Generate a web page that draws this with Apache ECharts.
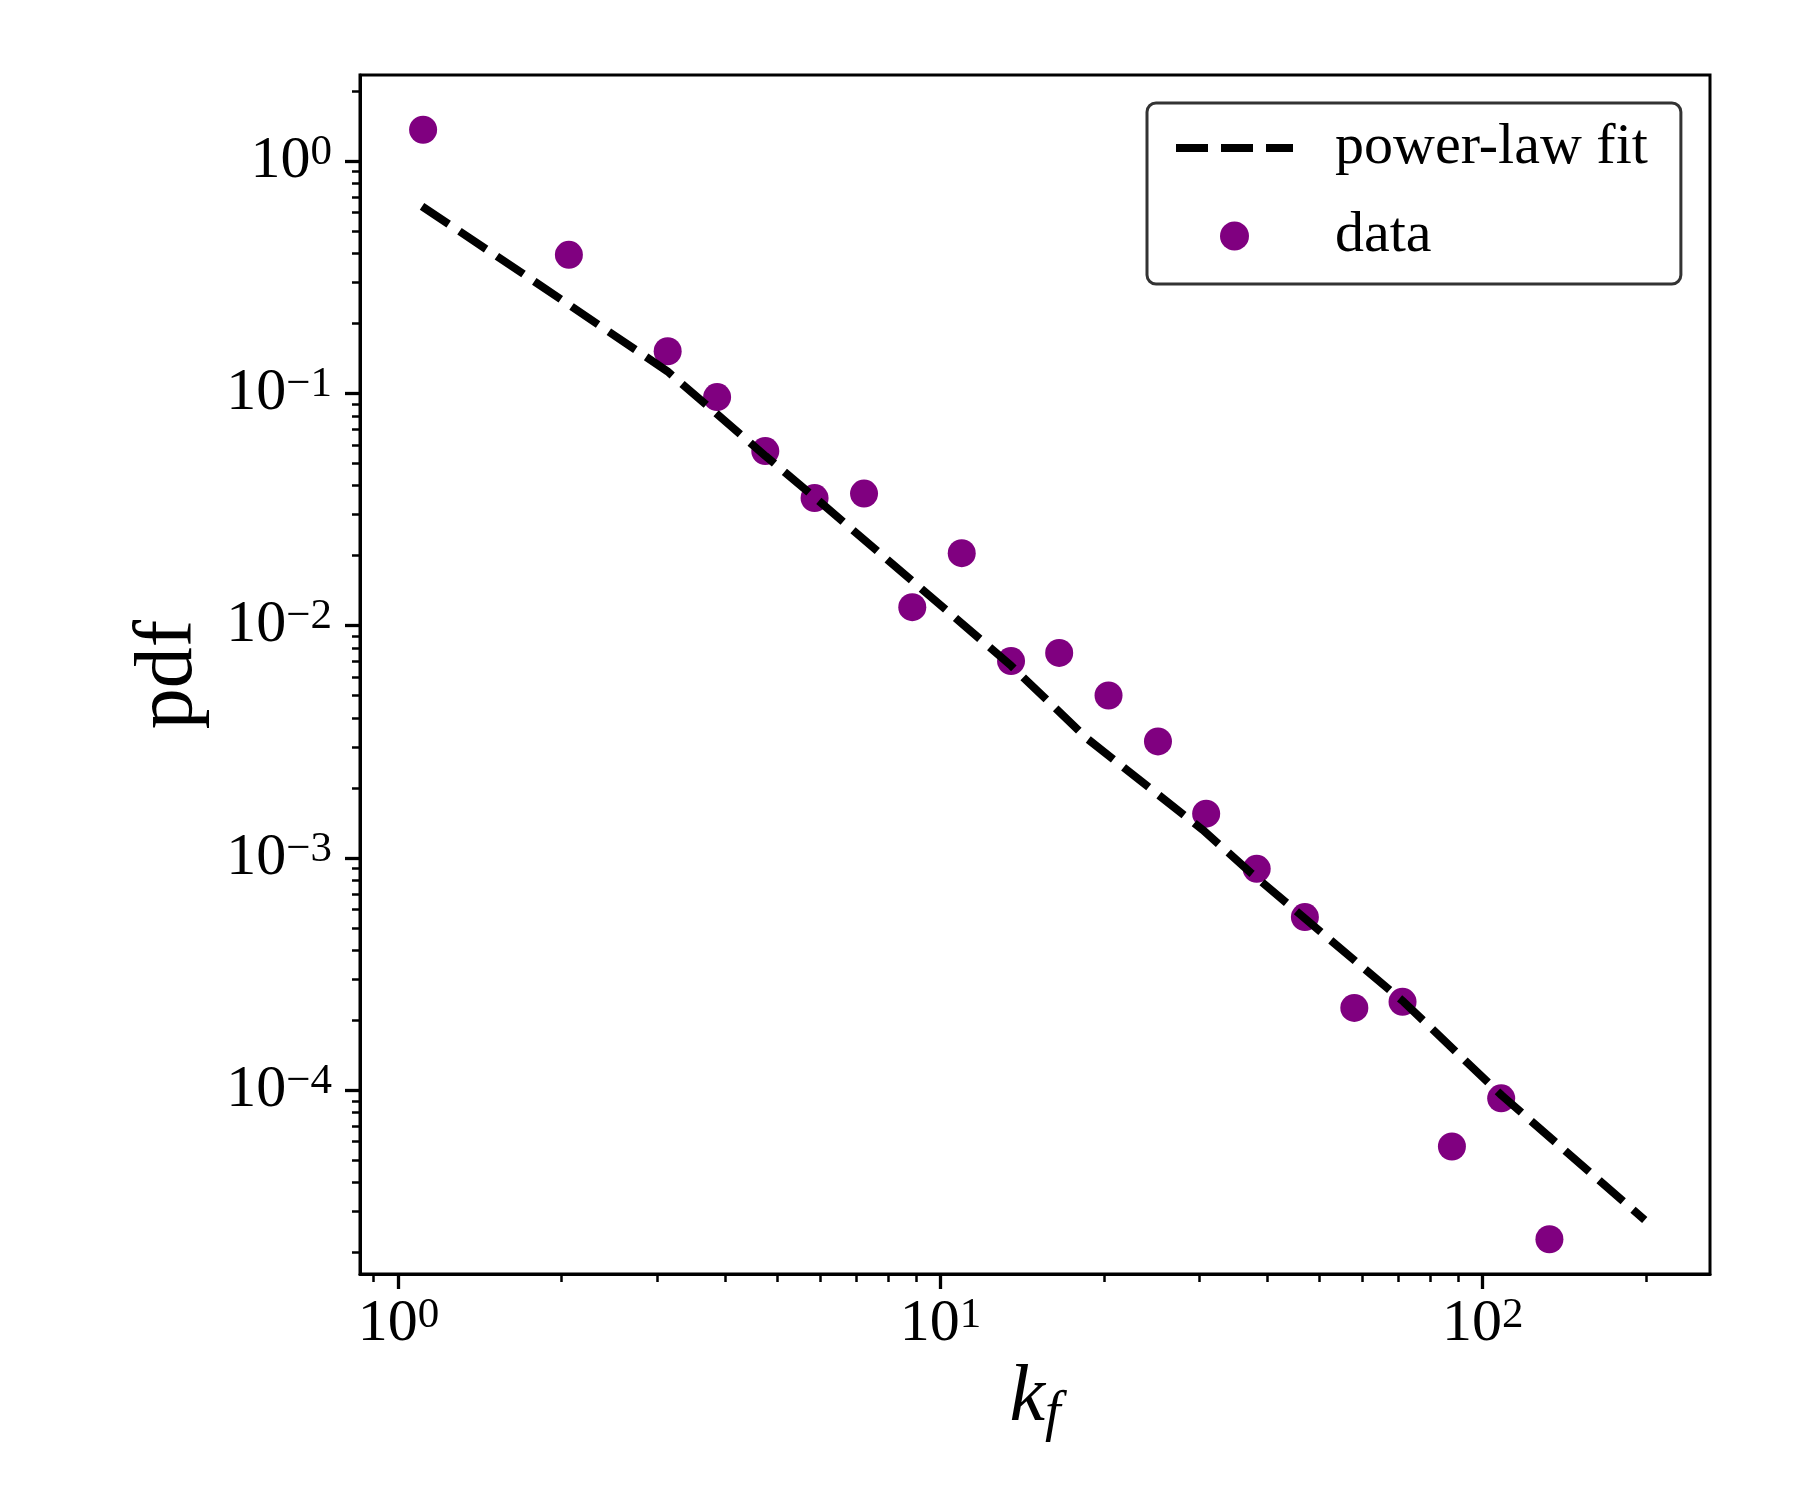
<!DOCTYPE html>
<html>
<head>
<meta charset="utf-8">
<script src="https://cdn.jsdelivr.net/npm/echarts@6/dist/echarts.min.js"></script>
<style>
  html, body { margin: 0; padding: 0; background: #fff; }
  #main { width: 1800px; height: 1500px; }
</style>
</head>
<body>
<div id="main"></div>
<script>
// data (log-binned degree k_f vs pdf)
var kf = [1.110, 2.062, 3.137, 3.870, 4.749, 5.855, 7.224, 8.867, 10.94, 13.49, 16.55,
          20.41, 25.18, 30.90, 38.30, 47.00, 57.98, 71.16, 87.77, 108.2, 132.8];
var pdf = [1.363, 0.3946, 0.1517, 0.0963, 0.0564, 0.0354, 0.0370, 0.0120, 0.0205, 0.00703, 0.00762,
           0.00500, 0.00317, 0.00155, 0.000897, 0.000556, 0.000226, 0.000240, 5.72e-5, 9.22e-5, 2.28e-5];
// power-law fit curve
var fitK = [1.105, 1.676, 3.134, 4.757, 5.861, 13.50, 18.64, 30.45, 37.52, 71.49, 108.5, 199.1];
var fitPdf = [0.638, 0.3335, 0.1243, 0.0536, 0.0356, 0.00671, 0.00326, 0.00132, 0.000855, 0.000240, 9.48e-5, 2.76e-5];

// axis ticks
var xMajor = [1, 10, 100];
var xMinor = [0.9, 2, 3, 4, 5, 6, 7, 8, 9, 20, 30, 40, 50, 60, 70, 80, 90, 200];
var yMajor = [1e-4, 1e-3, 1e-2, 1e-1, 1];
var yMinor = [];
[1e-5, 1e-4, 1e-3, 1e-2, 1e-1, 1].forEach(function (d) {
  for (var m = 2; m <= 9; m++) yMinor.push(+(m * d).toPrecision(3));
});

var FONT = 'Liberation Serif';

function expLabel(v) {
  var e = Math.round(Math.log10(v));
  return '{b|10}{s|' + (e < 0 ? '\u2212' + (-e) : e) + '}';
}
// "10" plus a raised exponent
var supRich = {
  b: { fontFamily: FONT, fontSize: 60, color: '#000', lineHeight: 60, verticalAlign: 'top' },
  s: { fontFamily: FONT, fontSize: 43, color: '#000', lineHeight: 1, verticalAlign: 'top' }
};

var xMin = 0.849, xMax = 262.7, yMin = 1.616e-5, yMax = 2.345;

var myChart = echarts.init(document.getElementById('main'));
myChart.setOption({
  animation: false,
  grid: {
    left: 360, top: 75, right: 90, bottom: 226,
    show: true, borderColor: '#000', borderWidth: 3, backgroundColor: '#fff'
  },
  legend: {
    orient: 'vertical',
    left: 1147, top: 103,
    padding: [15, 33, 18, 25],
    itemGap: 28,
    itemWidth: 117, itemHeight: 29,
    borderColor: '#333', borderWidth: 3, borderRadius: 9,
    backgroundColor: '#fff',
    textStyle: { fontFamily: FONT, fontSize: 58, color: '#000', lineHeight: 60, padding: [0, 0, 0, 37] },
    data: [
      { name: 'power-law fit', icon: 'inherit', itemStyle: { opacity: 0 },
        lineStyle: { color: '#000', width: 8, type: [32, 13], cap: 'butt' } },
      { name: 'data', icon: 'circle', itemStyle: { color: '#800080' } }
    ]
  },
  xAxis: [{
    type: 'log', min: xMin, max: xMax, position: 'bottom',
    name: '{k|k}{f|f}', nameLocation: 'middle', nameGap: 72,
    nameTextStyle: {
      rich: {
        k: { fontFamily: FONT, fontStyle: 'italic', fontSize: 80, color: '#000', lineHeight: 84, verticalAlign: 'top' },
        f: { fontFamily: FONT, fontStyle: 'italic', fontSize: 56, color: '#000', lineHeight: 40, verticalAlign: 'bottom' }
      }
    },
    splitLine: { show: false },
    axisLine: { show: true, onZero: false, lineStyle: { color: '#000', width: 3 } },
    axisTick: { show: true, customValues: xMajor, length: 15, lineStyle: { color: '#000', width: 3.3 } },
    axisLabel: { customValues: xMajor, margin: 20, formatter: expLabel, rich: supRich }
  }, {
    type: 'log', min: xMin, max: xMax, position: 'bottom',
    splitLine: { show: false },
    axisLine: { show: false },
    axisTick: { show: true, customValues: xMinor, length: 8, lineStyle: { color: '#000', width: 2.5 } },
    axisLabel: { show: false }
  }],
  yAxis: [{
    type: 'log', min: yMin, max: yMax, position: 'left',
    name: 'pdf', nameLocation: 'middle', nameGap: 150, nameRotate: 90,
    nameTextStyle: { fontFamily: FONT, fontSize: 82, color: '#000' },
    splitLine: { show: false },
    axisLine: { show: true, onZero: false, lineStyle: { color: '#000', width: 3 } },
    axisTick: { show: true, customValues: yMajor, length: 15, lineStyle: { color: '#000', width: 3.3 } },
    axisLabel: { customValues: yMajor, margin: 28, formatter: expLabel, rich: supRich }
  }, {
    type: 'log', min: yMin, max: yMax, position: 'left',
    splitLine: { show: false },
    axisLine: { show: false },
    axisTick: { show: true, customValues: yMinor, length: 8, lineStyle: { color: '#000', width: 2.5 } },
    axisLabel: { show: false }
  }],
  series: [{
    name: 'data',
    type: 'scatter',
    symbolSize: 28,
    itemStyle: { color: '#800080', opacity: 1 },
    z: 2,
    data: kf.map(function (k, i) { return [k, pdf[i]]; })
  }, {
    name: 'power-law fit',
    type: 'line',
    symbol: 'none',
    lineStyle: { color: '#000', width: 8, type: [32, 13], cap: 'butt' },
    itemStyle: { color: '#000' },
    z: 3,
    data: fitK.map(function (k, i) { return [k, fitPdf[i]]; })
  }]
});
</script>
</body>
</html>
